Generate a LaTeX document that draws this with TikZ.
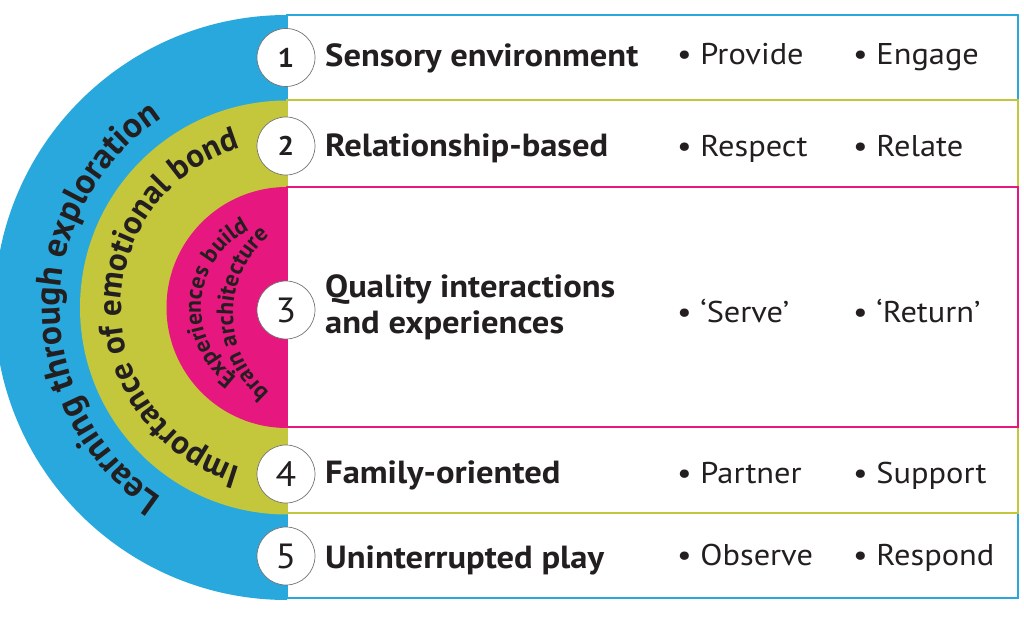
\documentclass[tikz,border=0pt]{standalone}
\usepackage{fontspec}
\setmainfont{PT Sans}[FakeStretch=1.08]
\newfontfamily\arcfont{PT Sans}
\usepackage{tikz}
\usetikzlibrary{positioning,decorations.text}
\definecolor{ringblue}{HTML}{29A8DD}
\definecolor{ringolive}{HTML}{C4C63C}
\definecolor{ringpink}{HTML}{E6177E}
\definecolor{ink}{HTML}{231F20}

\begin{document}
\begin{tikzpicture}[x=1pt,y=1pt,
    num/.style={circle,draw=black!55,line width=0.7pt,fill=white,minimum size=58pt,inner sep=0pt,text=ink,font=\fontsize{35}{38}\selectfont},
    title/.style={anchor=base west,inner sep=0pt,text=ink,font=\fontsize{32}{36}\selectfont\bfseries},
    item/.style={anchor=base west,inner sep=0pt,text=ink,font=\fontsize{30}{32}\selectfont},
    ring/.style={line width=2.4pt,draw=#1,fill=white},
    curve/.style={decorate,decoration={text along path,text align=center,text color=ink,text={#1}}}]
  \useasboundingbox (0,0) rectangle (1024,622);
  % outer layer
  \fill[ringblue] (287,607) arc[start angle=90,end angle=270,radius=292.5] -- cycle;
  \draw[ring=ringblue] (287,24) rectangle (1018,607);
  % middle layer
  \fill[ringolive] (287,521.5) arc[start angle=90,end angle=270,radius=207] -- cycle;
  \draw[ring=ringolive] (287,109) rectangle (1018,522);
  % inner layer
  \fill[ringpink] (287,435) arc[start angle=90,end angle=270,radius=120.5] -- cycle;
  \draw[ring=ringpink] (287,195) rectangle (1018,435);
  % curved labels
  \path[curve={|\arcfont\fontsize{35.5}{38}\selectfont\bfseries|Learning through exploration}]
    (287,87.5) arc[start angle=270,end angle=90,radius=227];
  \path[curve={|\arcfont\fontsize{33}{36}\selectfont\bfseries|Importance of emotional bond}]
    (287,148.5) arc[start angle=270,end angle=90,radius=166];
  \path[curve={|\arcfont\fontsize{23.5}{26}\selectfont\bfseries|Experiences build}]
    (279.5,228.8) arc[start angle=265,end angle=85,radius=86];
  \path[curve={|\arcfont\fontsize{23.5}{26}\selectfont\bfseries|brain architecture}]
    (335,206) arc[start angle=270,end angle=90,radius=102];
  % numbers
  \node[num,font=\fontsize{27}{28}\selectfont\bfseries] (n1) at (286,564.5) {1};
  \node[num,font=\fontsize{27}{28}\selectfont\bfseries] (n2) at (286,476) {2};
  \node[num] (n3) at (286,312) {3};
  \node[num] (n4) at (286,148) {4};
  \node[num] (n5) at (286,66) {5};
  % titles
  \node[title] (t1) at (325,555) {Sensory environment};
  \node[title] (t2) at (325,465) {Relationship-based};
  \node[title] (t3) at (325,325) {Quality interactions};
  \node[title] (t3b) at (325,289) {and experiences};
  \node[title] (t4) at (325,139) {Family-oriented};
  \node[title] (t5) at (325,54) {Uninterrupted play};
  % actions
  \foreach \n/\y/\a/\b in {1/557/Provide/Engage,2/465/Respect/Relate,3/300/‘Serve’/‘Return’,4/139/Partner/Support,5/57/Observe/Respond}{
    \node[item] (a\n) at (677,\y) {\textbullet\ \a};
    \node[item] (b\n) at (853,\y) {\textbullet\ \b};
  }
\end{tikzpicture}
\end{document}
